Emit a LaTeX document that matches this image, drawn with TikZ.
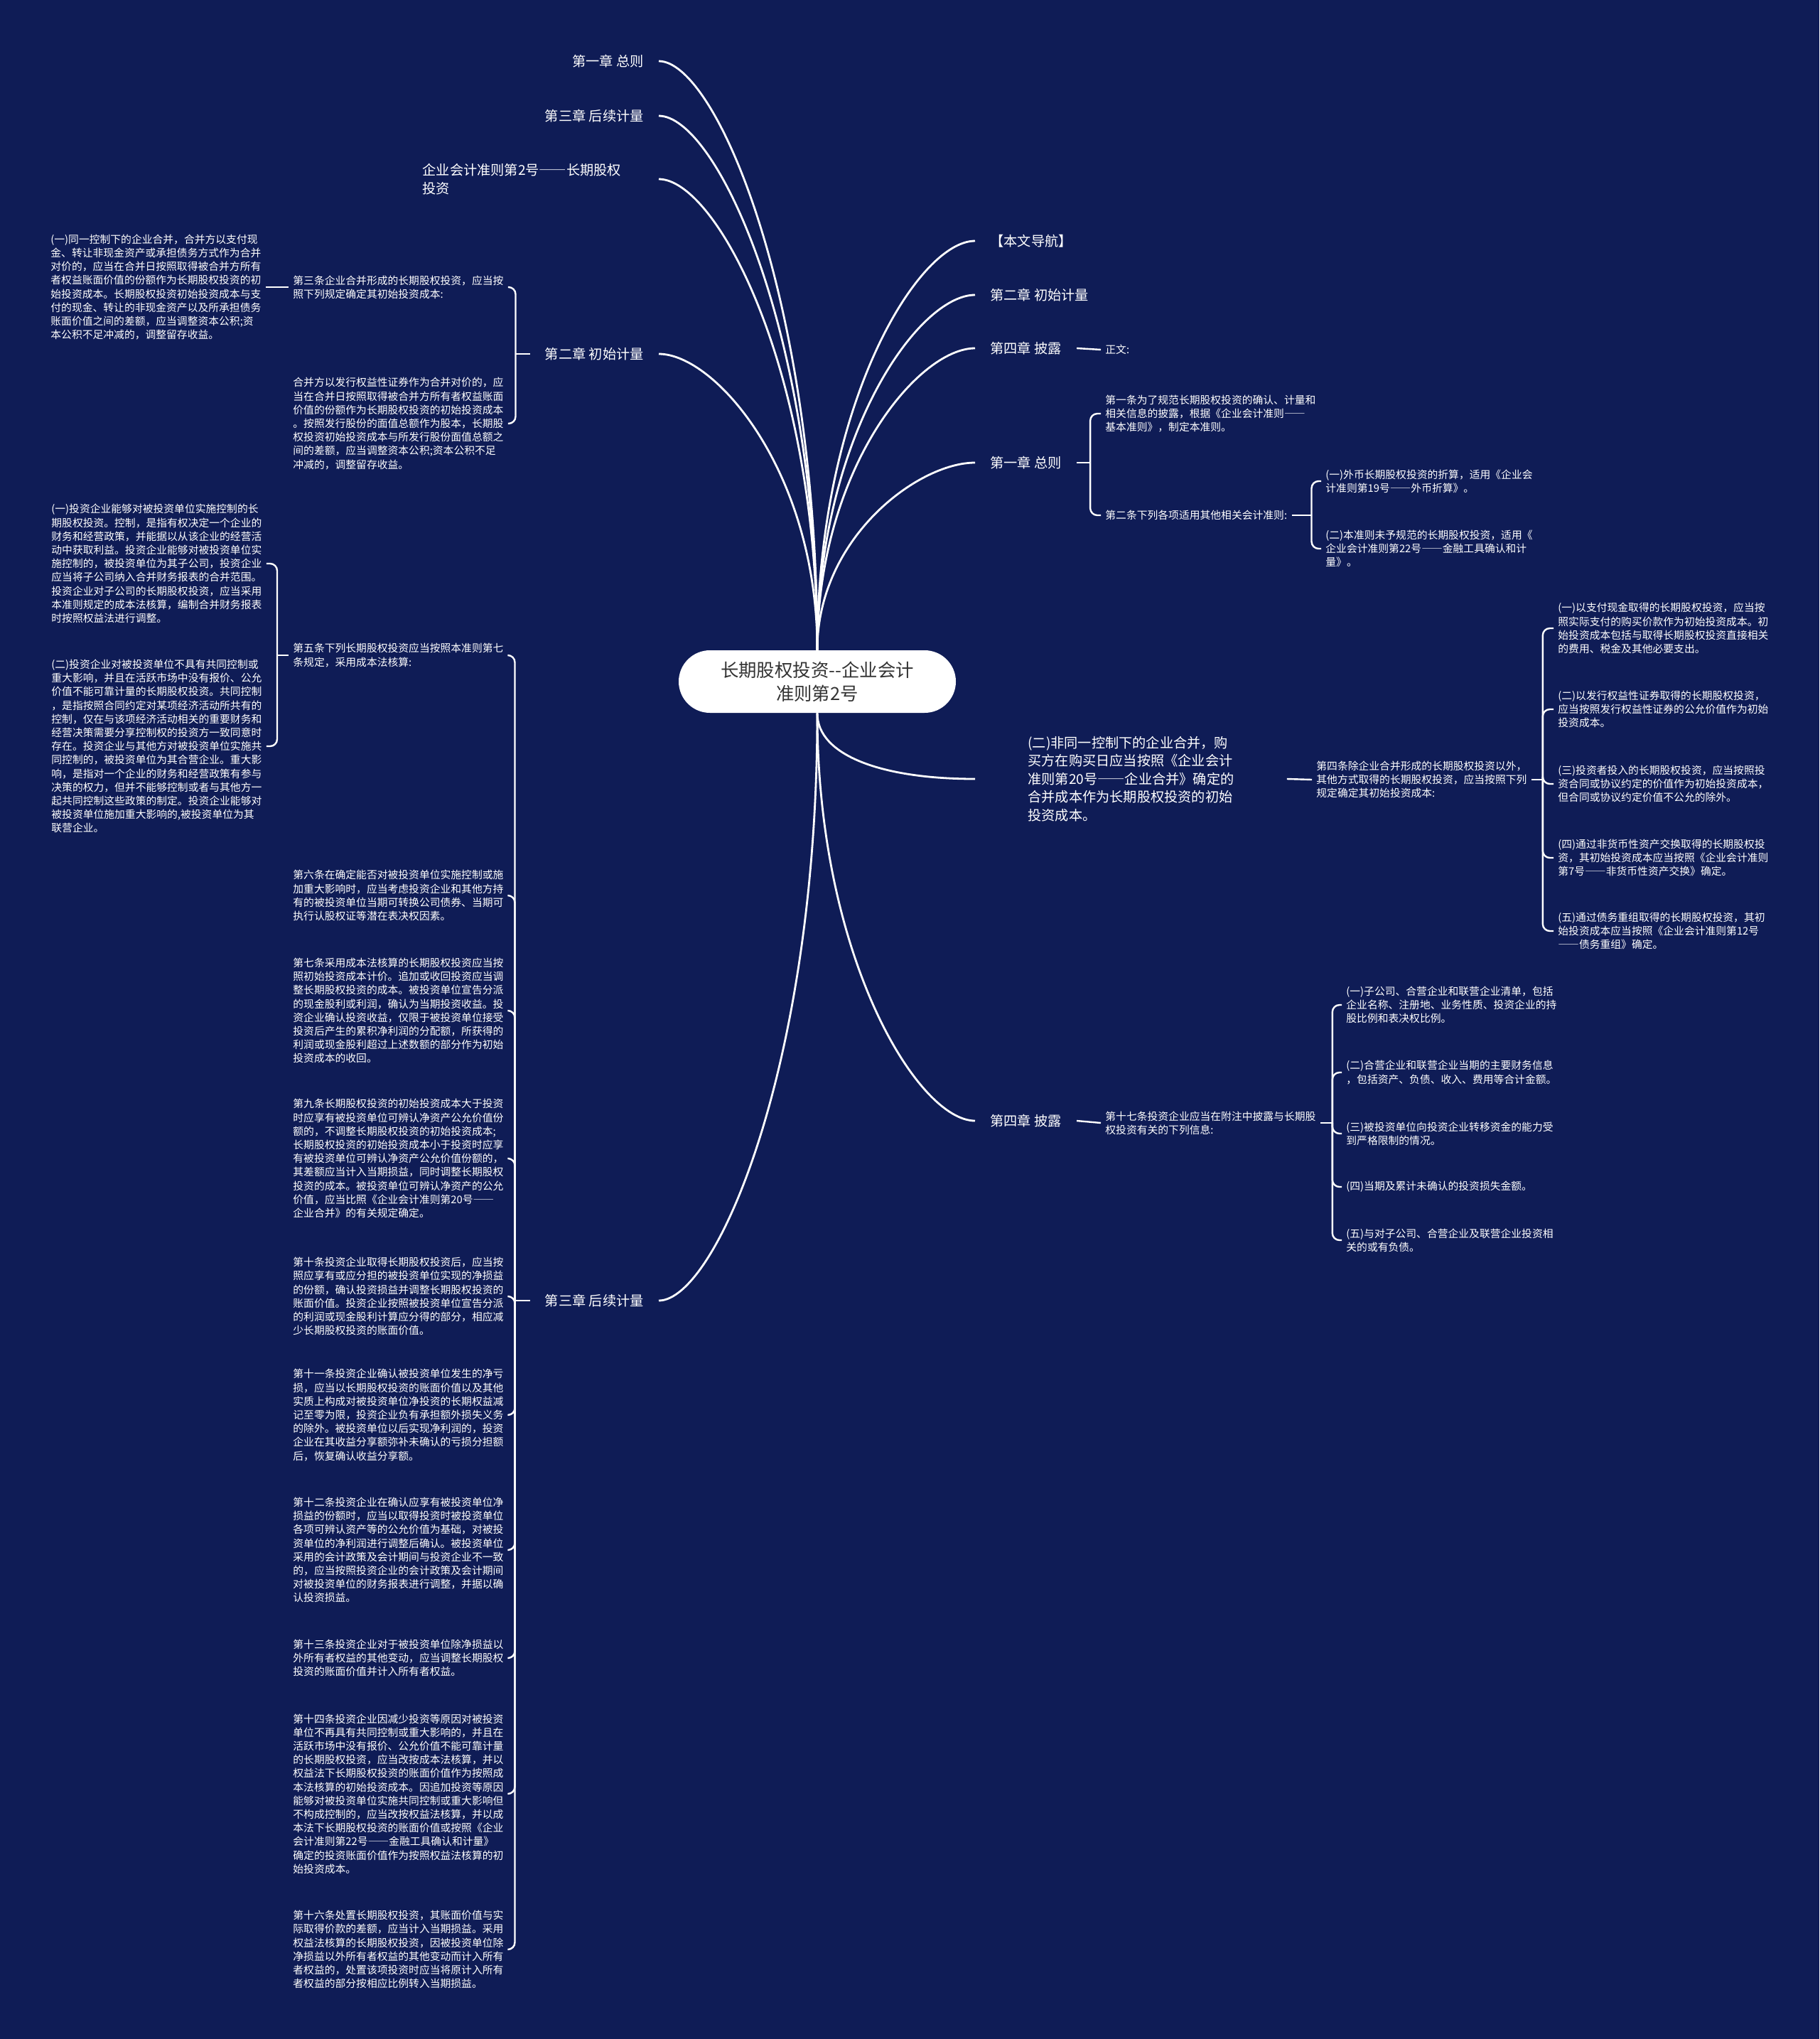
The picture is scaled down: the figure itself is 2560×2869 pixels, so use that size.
\documentclass[tikz,border=0pt]{standalone}
\usepackage{fontspec}
\setmainfont{Noto Sans CJK SC}
\definecolor{bgnavy}{HTML}{0F1C56}
\definecolor{rootgray}{HTML}{333333}
\newcommand{\cjkdash}{{\addfontfeature{CharacterWidth=Full}——}}

\begin{document}
\begin{tikzpicture}[
    x=0.5pt, y=-0.5pt,
    root/.style={
        rectangle,
        fill=white,
        rounded corners=22pt,
        minimum width=195pt,
        minimum height=44pt,
        align=center,
        text=rootgray,
        font=\fontsize{12.7}{16.5}\selectfont
    },
    chapter/.style={
        text=white,
        inner xsep=10.5pt,
        inner ysep=2pt,
        font=\fontsize{9.6}{12.8}\selectfont
    },
    para/.style={
        text=white,
        inner xsep=3pt,
        inner ysep=2pt,
        align=left,
        font=\fontsize{7.4}{9.6}\selectfont
    },
    link/.style={
        draw=white,
        line width=1.4pt
    },
    brace/.style={
        draw=white,
        line width=1.2pt,
        rounded corners=5pt
    }
]

% --- Background ---
\fill[bgnavy] (0,0) rectangle (2560,2869);

% --- Root ---
\node[root] (root) at (1150,959) {长期股权投资-{}-企业会计\\准则第2号};

% --- Left chapters ---
\node[chapter, anchor=east] (lzz) at (927,86) {第一章 总则};
\node[chapter, anchor=east] (lhx) at (927,163) {第三章 后续计量};
\node[chapter, anchor=east, text width=155.5pt, align=left] (lbt) at (927,252) {企业会计准则第2号\cjkdash 长期股权\\投资};
\node[chapter, anchor=east] (lcs) at (927,498) {第二章 初始计量};
\node[chapter, anchor=east] (lhx2) at (927,1830) {第三章 后续计量};

% --- Right chapters ---
\node[chapter, anchor=west] (rdh) at (1372,339) {【本文导航】};
\node[chapter, anchor=west] (rcs) at (1372,415) {第二章 初始计量};
\node[chapter, anchor=west] (rpl) at (1372,490) {第四章 披露};
\node[chapter, anchor=west] (rzz) at (1372,651) {第一章 总则};
\node[chapter, anchor=west, inner xsep=37pt, align=left] (rbig) at (1372,1096) {(二)非同一控制下的企业合并，购\\
买方在购买日应当按照《企业会计\\
准则第20号\cjkdash 企业合并》确定的\\
合并成本作为长期股权投资的初始\\
投资成本。};
\node[chapter, anchor=west] (rpl2) at (1372,1577) {第四章 披露};

% --- Root links ---
\draw[link] (root.north) .. controls +(0,-497) and +(80,0) .. (lzz.east);
\draw[link] (root.north) .. controls +(0,-451) and +(80,0) .. (lhx.east);
\draw[link] (root.north) .. controls +(0,-398) and +(80,0) .. (lbt.east);
\draw[link] (root.north) .. controls +(0,-250) and +(80,0) .. (lcs.east);
\draw[link] (root.north) .. controls +(0,-346) and +(-80,0) .. (rdh.west);
\draw[link] (root.north) .. controls +(0,-300) and +(-80,0) .. (rcs.west);
\draw[link] (root.north) .. controls +(0,-255) and +(-80,0) .. (rpl.west);
\draw[link] (root.north) .. controls +(0,-158) and +(-80,0) .. (rzz.west);
\draw[link] (root.south) .. controls +(0,496) and +(80,0) .. (lhx2.east);
\draw[link] (root.south) .. controls +(0,60) and +(-130,0) .. (rbig.west);
\draw[link] (root.south) .. controls +(0,344) and +(-80,0) .. (rpl2.west);

% --- 第二章 初始计量 (left) ---
\node[para, anchor=west] (cs1) at (406,404) {第三条企业合并形成的长期股权投资，应当按\\
照下列规定确定其初始投资成本:};
\node[para, anchor=west] (cs2) at (406,596) {合并方以发行权益性证券作为合并对价的，应\\
当在合并日按照取得被合并方所有者权益账面\\
价值的份额作为长期股权投资的初始投资成本\\
。按照发行股份的面值总额作为股本，长期股\\
权投资初始投资成本与所发行股份面值总额之\\
间的差额，应当调整资本公积;资本公积不足\\
冲减的，调整留存收益。};
\node[para, anchor=west] (cs1a) at (65,404) {(一)同一控制下的企业合并，合并方以支付现\\
金、转让非现金资产或承担债务方式作为合并\\
对价的，应当在合并日按照取得被合并方所有\\
者权益账面价值的份额作为长期股权投资的初\\
始投资成本。长期股权投资初始投资成本与支\\
付的现金、转让的非现金资产以及所承担债务\\
账面价值之间的差额，应当调整资本公积;资\\
本公积不足冲减的，调整留存收益。};

\coordinate (jcs) at ([xshift=-10pt]lcs.west);
\draw[brace] (lcs.west) -- (jcs);
\draw[brace] (jcs) |- (cs1.east);
\draw[brace] (jcs) |- (cs2.east);
\draw[brace] (cs1a.east) -- (cs1.west);

% --- 第三章 后续计量 (left) ---
\node[para, anchor=west] (hx1) at (406,922) {第五条下列长期股权投资应当按照本准则第七\\
条规定，采用成本法核算:};
\node[para, anchor=west] (hx1a) at (66,793) {(一)投资企业能够对被投资单位实施控制的长\\
期股权投资。控制，是指有权决定一个企业的\\
财务和经营政策，并能据以从该企业的经营活\\
动中获取利益。投资企业能够对被投资单位实\\
施控制的，被投资单位为其子公司，投资企业\\
应当将子公司纳入合并财务报表的合并范围。\\
投资企业对子公司的长期股权投资，应当采用\\
本准则规定的成本法核算，编制合并财务报表\\
时按照权益法进行调整。};
\node[para, anchor=west] (hx1b) at (66,1050) {(二)投资企业对被投资单位不具有共同控制或\\
重大影响，并且在活跃市场中没有报价、公允\\
价值不能可靠计量的长期股权投资。共同控制\\
，是指按照合同约定对某项经济活动所共有的\\
控制，仅在与该项经济活动相关的重要财务和\\
经营决策需要分享控制权的投资方一致同意时\\
存在。投资企业与其他方对被投资单位实施共\\
同控制的，被投资单位为其合营企业。重大影\\
响，是指对一个企业的财务和经营政策有参与\\
决策的权力，但并不能够控制或者与其他方一\\
起共同控制这些政策的制定。投资企业能够对\\
被投资单位施加重大影响的,被投资单位为其\\
联营企业。};
\node[para, anchor=west] (hx2) at (406,1260) {第六条在确定能否对被投资单位实施控制或施\\
加重大影响时，应当考虑投资企业和其他方持\\
有的被投资单位当期可转换公司债券、当期可\\
执行认股权证等潜在表决权因素。};
\node[para, anchor=west] (hx3) at (406,1422) {第七条采用成本法核算的长期股权投资应当按\\
照初始投资成本计价。追加或收回投资应当调\\
整长期股权投资的成本。被投资单位宣告分派\\
的现金股利或利润，确认为当期投资收益。投\\
资企业确认投资收益，仅限于被投资单位接受\\
投资后产生的累积净利润的分配额，所获得的\\
利润或现金股利超过上述数额的部分作为初始\\
投资成本的收回。};
\node[para, anchor=west] (hx4) at (406,1630) {第九条长期股权投资的初始投资成本大于投资\\
时应享有被投资单位可辨认净资产公允价值份\\
额的，不调整长期股权投资的初始投资成本;\\
长期股权投资的初始投资成本小于投资时应享\\
有被投资单位可辨认净资产公允价值份额的，\\
其差额应当计入当期损益，同时调整长期股权\\
投资的成本。被投资单位可辨认净资产的公允\\
价值，应当比照《企业会计准则第20号\cjkdash\\
企业合并》的有关规定确定。};
\node[para, anchor=west] (hx5) at (406,1824) {第十条投资企业取得长期股权投资后，应当按\\
照应享有或应分担的被投资单位实现的净损益\\
的份额，确认投资损益并调整长期股权投资的\\
账面价值。投资企业按照被投资单位宣告分派\\
的利润或现金股利计算应分得的部分，相应减\\
少长期股权投资的账面价值。};
\node[para, anchor=west] (hx6) at (406,1991) {第十一条投资企业确认被投资单位发生的净亏\\
损，应当以长期股权投资的账面价值以及其他\\
实质上构成对被投资单位净投资的长期权益减\\
记至零为限，投资企业负有承担额外损失义务\\
的除外。被投资单位以后实现净利润的，投资\\
企业在其收益分享额弥补未确认的亏损分担额\\
后，恢复确认收益分享额。};
\node[para, anchor=west] (hx7) at (406,2181) {第十二条投资企业在确认应享有被投资单位净\\
损益的份额时，应当以取得投资时被投资单位\\
各项可辨认资产等的公允价值为基础，对被投\\
资单位的净利润进行调整后确认。被投资单位\\
采用的会计政策及会计期间与投资企业不一致\\
的，应当按照投资企业的会计政策及会计期间\\
对被投资单位的财务报表进行调整，并据以确\\
认投资损益。};
\node[para, anchor=west] (hx8) at (406,2333) {第十三条投资企业对于被投资单位除净损益以\\
外所有者权益的其他变动，应当调整长期股权\\
投资的账面价值并计入所有者权益。};
\node[para, anchor=west] (hx9) at (406,2524) {第十四条投资企业因减少投资等原因对被投资\\
单位不再具有共同控制或重大影响的，并且在\\
活跃市场中没有报价、公允价值不能可靠计量\\
的长期股权投资，应当改按成本法核算，并以\\
权益法下长期股权投资的账面价值作为按照成\\
本法核算的初始投资成本。因追加投资等原因\\
能够对被投资单位实施共同控制或重大影响但\\
不构成控制的，应当改按权益法核算，并以成\\
本法下长期股权投资的账面价值或按照《企业\\
会计准则第22号\cjkdash 金融工具确认和计量》\\
确定的投资账面价值作为按照权益法核算的初\\
始投资成本。};
\node[para, anchor=west] (hx10) at (406,2743) {第十六条处置长期股权投资，其账面价值与实\\
际取得价款的差额，应当计入当期损益。采用\\
权益法核算的长期股权投资，因被投资单位除\\
净损益以外所有者权益的其他变动而计入所有\\
者权益的，处置该项投资时应当将原计入所有\\
者权益的部分按相应比例转入当期损益。};

\coordinate (jhx2) at ([xshift=-10.5pt]lhx2.west);
\draw[brace] (lhx2.west) -- (jhx2);
\foreach \n in {hx1,hx2,hx3,hx4,hx5,hx6,hx7,hx8,hx9,hx10}
    \draw[brace] (jhx2) |- (\n.east);

\coordinate (jhx1) at ([xshift=-8pt]hx1.west);
\draw[brace] (hx1.west) -- (jhx1);
\draw[brace] (jhx1) |- (hx1a.east);
\draw[brace] (jhx1) |- (hx1b.east);

% --- 第四章 披露 / 正文 ---
\node[para, anchor=west] (zw) at (1549,492) {正文:};
\draw[brace] (rpl.east) -- (zw.west);

% --- 第一章 总则 (right) ---
\node[para, anchor=west] (zz1) at (1549,582) {第一条为了规范长期股权投资的确认、计量和\\
相关信息的披露，根据《企业会计准则\cjkdash\\
基本准则》，制定本准则。};
\node[para, anchor=west] (zz2) at (1549,725) {第二条下列各项适用其他相关会计准则:};
\node[para, anchor=west] (zz2a) at (1859,677) {(一)外币长期股权投资的折算，适用《企业会\\
计准则第19号\cjkdash 外币折算》。};
\node[para, anchor=west] (zz2b) at (1859,772) {(二)本准则未予规范的长期股权投资，适用《\\
企业会计准则第22号\cjkdash 金融工具确认和计\\
量》。};

\coordinate (jzz) at ([xshift=9.5pt]rzz.east);
\draw[brace] (rzz.east) -- (jzz);
\draw[brace] (jzz) |- (zz1.west);
\draw[brace] (jzz) |- (zz2.west);

\coordinate (jzz2) at ([xshift=14pt]zz2.east);
\draw[brace] (zz2.east) -- (jzz2);
\draw[brace] (jzz2) |- (zz2a.west);
\draw[brace] (jzz2) |- (zz2b.west);

% --- 非同一控制下的企业合并 ---
\node[para, anchor=west] (big1) at (1846,1097) {第四条除企业合并形成的长期股权投资以外，\\
其他方式取得的长期股权投资，应当按照下列\\
规定确定其初始投资成本:};
\node[para, anchor=west] (big1a) at (2186,884) {(一)以支付现金取得的长期股权投资，应当按\\
照实际支付的购买价款作为初始投资成本。初\\
始投资成本包括与取得长期股权投资直接相关\\
的费用、税金及其他必要支出。};
\node[para, anchor=west] (big1b) at (2186,998) {(二)以发行权益性证券取得的长期股权投资，\\
应当按照发行权益性证券的公允价值作为初始\\
投资成本。};
\node[para, anchor=west] (big1c) at (2186,1103) {(三)投资者投入的长期股权投资，应当按照投\\
资合同或协议约定的价值作为初始投资成本，\\
但合同或协议约定价值不公允的除外。};
\node[para, anchor=west] (big1d) at (2186,1207) {(四)通过非货币性资产交换取得的长期股权投\\
资，其初始投资成本应当按照《企业会计准则\\
第7号\cjkdash 非货币性资产交换》确定。};
\node[para, anchor=west] (big1e) at (2186,1310) {(五)通过债务重组取得的长期股权投资，其初\\
始投资成本应当按照《企业会计准则第12号\\
\cjkdash 债务重组》确定。};

\draw[brace] (rbig.east) -- (big1.west);
\coordinate (jbig) at ([xshift=8pt]big1.east);
\draw[brace] (big1.east) -- (jbig);
\foreach \n in {big1a,big1b,big1c,big1d,big1e}
    \draw[brace] (jbig) |- (\n.west);

% --- 第四章 披露 (bottom) ---
\node[para, anchor=west] (pl1) at (1549,1580) {第十七条投资企业应当在附注中披露与长期股\\
权投资有关的下列信息:};
\node[para, anchor=west] (pl1a) at (1888,1414) {(一)子公司、合营企业和联营企业清单，包括\\
企业名称、注册地、业务性质、投资企业的持\\
股比例和表决权比例。};
\node[para, anchor=west] (pl1b) at (1888,1509) {(二)合营企业和联营企业当期的主要财务信息\\
，包括资产、负债、收入、费用等合计金额。};
\node[para, anchor=west] (pl1c) at (1888,1595) {(三)被投资单位向投资企业转移资金的能力受\\
到严格限制的情况。};
\node[para, anchor=west] (pl1d) at (1888,1670) {(四)当期及累计未确认的投资损失金额。};
\node[para, anchor=west] (pl1e) at (1888,1745) {(五)与对子公司、合营企业及联营企业投资相\\
关的或有负债。};

\draw[brace] (rpl2.east) -- (pl1.west);
\coordinate (jpl) at ([xshift=8.5pt]pl1.east);
\draw[brace] (pl1.east) -- (jpl);
\foreach \n in {pl1a,pl1b,pl1c,pl1d,pl1e}
    \draw[brace] (jpl) |- (\n.west);

\end{tikzpicture}
\end{document}
